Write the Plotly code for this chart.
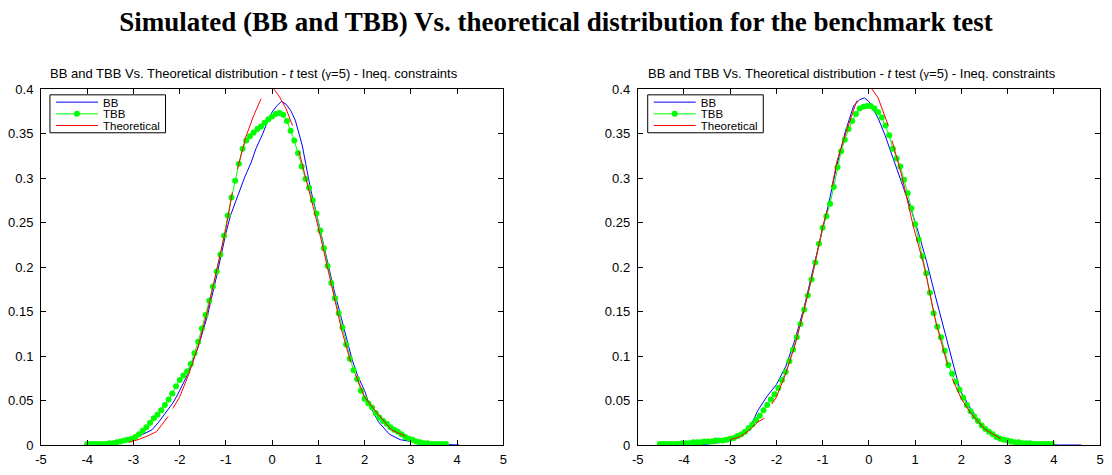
import numpy as np
import plotly.graph_objects as go

# ---------------- data ----------------
# Left panel
bb_x_left = [-4.05, -3.6, -3.2, -3.0, -2.8, -2.6, -2.45, -2.29, -2.15, -2.06, -1.95, -1.83, -1.6, -1.4,
             -1.2, -1.1, -1.0, -0.9, -0.75, -0.6, -0.45, -0.35, -0.2, -0.1, 0.0, 0.1, 0.2, 0.3, 0.4, 0.5,
             0.65, 0.83, 0.94, 1.1, 1.34, 1.5, 1.73, 1.85, 2.0, 2.1, 2.3, 2.54, 2.77, 3.0, 3.5, 4.05]
bb_y_left = [0.0, 0.002, 0.005, 0.008, 0.012, 0.017, 0.026, 0.037, 0.047, 0.055, 0.066, 0.079, 0.11, 0.145,
             0.19, 0.215, 0.238, 0.258, 0.280, 0.300, 0.318, 0.333, 0.350, 0.364, 0.374, 0.381, 0.386, 0.383, 0.376, 0.365,
             0.337, 0.288, 0.264, 0.228, 0.174, 0.142, 0.096, 0.078, 0.061, 0.046, 0.026, 0.012, 0.006, 0.004, 0.001, 0.0]

tbb_x_left_start = -4.0
tbb_x_left_step = 0.08
tbb_y_left = [0.001, 0.001, 0.001, 0.001, 0.001, 0.001, 0.002, 0.002, 0.003, 0.004,
              0.005, 0.006, 0.007, 0.009, 0.012, 0.016, 0.020, 0.025, 0.030, 0.034,
              0.039, 0.045, 0.051, 0.058, 0.066, 0.073, 0.078, 0.083, 0.091, 0.103,
              0.116, 0.131, 0.146, 0.162, 0.178, 0.195, 0.214, 0.235, 0.258, 0.278,
              0.297, 0.316, 0.333, 0.342, 0.347, 0.351, 0.355, 0.358, 0.362, 0.366,
              0.369, 0.372, 0.373, 0.371, 0.364, 0.353, 0.342, 0.328, 0.313, 0.299,
              0.289, 0.275, 0.260, 0.241, 0.221, 0.201, 0.182, 0.165, 0.148, 0.132,
              0.113, 0.097, 0.084, 0.074, 0.061, 0.052, 0.047, 0.042, 0.036, 0.031,
              0.027, 0.024, 0.020, 0.017, 0.015, 0.012, 0.009, 0.007, 0.006, 0.004,
              0.003, 0.002, 0.002, 0.001, 0.001, 0.001, 0.001, 0.001]

th_x_left = [-3.1, -2.9, -2.7, -2.5, -2.25, None,
             -2.15, -2.0, -1.8, -1.6, -1.4, -1.2, -1.0, -0.86, None,
             -0.75, -0.57, -0.4, -0.24, None,
             -0.03, 0.15, 0.3, 0.44, None,
             0.58, 0.73, 0.94, 1.1, 1.3, 1.5, 1.7, None,
             1.8, 2.0, 2.27, 2.58, 2.88]
th_y_left = [0.003, 0.006, 0.010, 0.015, 0.032, None,
             0.041, 0.054, 0.080, 0.111, 0.150, 0.195, 0.243, 0.284, None,
             0.310, 0.346, 0.370, 0.389, None,
             0.405, 0.392, 0.378, 0.359, None,
             0.330, 0.300, 0.257, 0.222, 0.175, 0.130, 0.093, None,
             0.080, 0.054, 0.036, 0.017, 0.010]

# Right panel
bb_x_right = [-4.0, -3.5, -3.2, -3.0, -2.8, -2.7, -2.55, -2.4, -2.2, -2.0, -1.8, -1.6, -1.4, -1.2,
              -1.01, -0.87, -0.69, -0.51, -0.33, -0.2, -0.1, 0.0, 0.1, 0.21, 0.35, 0.53, 0.75, 0.82,
              0.93, 1.07, 1.25, 1.43, 1.61, 1.79, 1.97, 2.2, 2.5, 2.8, 3.0, 3.5, 4.0, 4.1, 4.6]
bb_y_right = [0.0, 0.001, 0.003, 0.006, 0.010, 0.013, 0.022, 0.039, 0.055, 0.068, 0.088, 0.118, 0.155, 0.198,
              0.239, 0.271, 0.315, 0.352, 0.381, 0.388, 0.390, 0.386, 0.377, 0.366, 0.348, 0.322, 0.290, 0.279,
              0.262, 0.239, 0.206, 0.169, 0.133, 0.097, 0.062, 0.041, 0.018, 0.008, 0.005, 0.002, 0.001, 0.0, 0.0]

tbb_x_right_start = -4.52
tbb_x_right_step = 0.08
tbb_y_right = [0.001, 0.001, 0.001, 0.001, 0.001, 0.001, 0.002, 0.002, 0.002, 0.003,
               0.003, 0.003, 0.004, 0.004, 0.004, 0.005, 0.005, 0.005, 0.006, 0.007,
               0.008, 0.010, 0.012, 0.015, 0.019, 0.023, 0.028, 0.033, 0.039, 0.045,
               0.051, 0.057, 0.064, 0.073, 0.082, 0.094, 0.107, 0.121, 0.136, 0.152,
               0.168, 0.186, 0.205, 0.226, 0.244, 0.257, 0.271, 0.290, 0.312, 0.330,
               0.343, 0.355, 0.364, 0.372, 0.378, 0.380, 0.381, 0.381, 0.378, 0.374,
               0.368, 0.359, 0.348, 0.333, 0.322, 0.313, 0.298, 0.283, 0.266, 0.248,
               0.231, 0.212, 0.193, 0.171, 0.148, 0.133, 0.121, 0.106, 0.090, 0.080,
               0.071, 0.062, 0.053, 0.045, 0.038, 0.032, 0.027, 0.022, 0.018, 0.015,
               0.012, 0.009, 0.007, 0.006, 0.005, 0.004, 0.003, 0.003, 0.002, 0.002,
               0.002, 0.001, 0.001, 0.001, 0.001, 0.001, 0.001]

th_x_right = [-3.0, -2.8, -2.6, -2.4, -2.26, None,
              -2.1, -2.0, -1.8, -1.6, -1.4, -1.2, -1.0, -0.9, None,
              -0.8, -0.69, -0.47, -0.26, None,
              0.0, 0.2, 0.42, None,
              0.5, 0.7, 0.96, 1.2, 1.45, 1.7, None,
              1.8, 2.0, 2.2, 2.5, 2.85]
th_y_right = [0.006, 0.009, 0.016, 0.026, 0.030, None,
              0.046, 0.054, 0.080, 0.112, 0.152, 0.196, 0.245, 0.264, None,
              0.290, 0.319, 0.355, 0.387, None,
              0.405, 0.390, 0.359, None,
              0.342, 0.305, 0.246, 0.200, 0.138, 0.090, None,
              0.075, 0.052, 0.036, 0.018, 0.007]

x_ticks = [-5, -4, -3, -2, -1, 0, 1, 2, 3, 4, 5]
x_tick_labels = ["-5", "-4", "-3", "-2", "-1", "0", "1", "2", "3", "4", "5"]
y_ticks = [0, 0.05, 0.1, 0.15, 0.2, 0.25, 0.3, 0.35, 0.4]
y_tick_labels = ["0", "0.05", "0.1", "0.15", "0.2", "0.25", "0.3", "0.35", "0.4"]
series_names = ["BB", "TBB", "Theoretical"]

main_title = "Simulated (BB and TBB) Vs. theoretical distribution for the benchmark test"
panel_title = ("BB and TBB Vs. Theoretical distribution - <i>t</i> test "
               "(<span style='font-size:11px'>\u03b3</span>=5) - Ineq. constraints")

# ---------------- figure ----------------
tbb_x_left = [round(tbb_x_left_start + tbb_x_left_step * i, 2) for i in range(len(tbb_y_left))]
tbb_x_right = [round(tbb_x_right_start + tbb_x_right_step * i, 2) for i in range(len(tbb_y_right))]

W, H = 1112, 475
ML, MR, MT, MB = 41, 8, 89, 20
pw = W - ML - MR
ph = H - MT - MB
left_px = (41, 505)
right_px = (640, 1104)
left_dom = [(left_px[0] - ML) / pw, (left_px[1] - ML) / pw]
right_dom = [(right_px[0] - ML) / pw, (right_px[1] - ML) / pw]


def px_x(p):
    return (p - ML) / pw


def px_y(p):
    return (H - MB - p) / ph


fig = go.Figure()

panels = [
    ("x", "y", ["legend", "legend2", "legend3"], bb_x_left, bb_y_left, tbb_x_left, tbb_y_left, th_x_left, th_y_left),
    ("x2", "y2", ["legend4", "legend5", "legend6"], bb_x_right, bb_y_right, tbb_x_right, tbb_y_right, th_x_right, th_y_right),
]
for xa, ya, lgs, bx, by, tx, ty, hx, hy in panels:
    fig.add_trace(go.Scatter(x=bx, y=by, mode="lines", name=series_names[0], xaxis=xa, yaxis=ya, legend=lgs[0],
                             line=dict(color="#0000FF", width=1)))
    fig.add_trace(go.Scatter(x=tx, y=ty, mode="lines+markers", name=series_names[1], xaxis=xa, yaxis=ya,
                             legend=lgs[1], line=dict(color="#00FF00", width=1),
                             marker=dict(color="#00FF00", size=6)))
    fig.add_trace(go.Scatter(x=hx, y=hy, mode="lines", name=series_names[2], xaxis=xa, yaxis=ya, legend=lgs[2],
                             connectgaps=False, line=dict(color="#FF0000", width=1)))

axis_common = dict(showline=True, linecolor="black", linewidth=1, mirror="ticks", ticks="inside",
                   ticklen=5, tickcolor="black", showgrid=False, zeroline=False,
                   tickfont=dict(family="Liberation Sans, Arial", size=13, color="black"))

legend_font = dict(family="Liberation Sans, Arial", size=11.5, color="black")
row_centers = [102.5, 114.5, 126.5]
legends = {}
for k, (plx, box_left) in enumerate([(left_px, 51), (right_px, 651)]):
    for j in range(3):
        key = "legend" if (k == 0 and j == 0) else "legend%d" % (k * 3 + j + 1)
        legends[key] = dict(x=px_x(box_left), y=px_y(row_centers[j]), xanchor="left", yanchor="middle",
                            bgcolor="rgba(0,0,0,0)", borderwidth=0, font=legend_font, itemwidth=42,
                            itemclick=False, itemdoubleclick=False)

fig.update_layout(
    width=W, height=H,
    margin=dict(l=ML, r=MR, t=MT, b=MB),
    paper_bgcolor="white", plot_bgcolor="white",
    showlegend=True,
    title=dict(text="<b>" + main_title + "</b>", x=0.5, xanchor="center", y=1 - 22 / H, yanchor="middle",
               yref="container",
               font=dict(family="Liberation Serif, Times New Roman", size=27, color="black")),
    xaxis=dict(domain=left_dom, range=[-5, 5], tickvals=x_ticks, ticktext=x_tick_labels, anchor="y",
               ticklabelstandoff=2, **axis_common),
    yaxis=dict(domain=[0, 1], range=[0, 0.4], tickvals=y_ticks, ticktext=y_tick_labels, anchor="x",
               ticklabelstandoff=4, **axis_common),
    xaxis2=dict(domain=right_dom, range=[-5, 5], tickvals=x_ticks, ticktext=x_tick_labels, anchor="y2",
                ticklabelstandoff=2, **axis_common),
    yaxis2=dict(domain=[0, 1], range=[0, 0.4], tickvals=y_ticks, ticktext=y_tick_labels, anchor="x2",
                ticklabelstandoff=4, **axis_common),
    **legends,
)

# legend frames (opaque white boxes with black border, like MATLAB)
for box_left in (50, 650):
    fig.add_shape(type="rect", xref="paper", yref="paper",
                  x0=px_x(box_left), x1=px_x(box_left + 116), y0=px_y(134), y1=px_y(95),
                  fillcolor="white", line=dict(color="black", width=1), layer="above")

# panel titles
for center in (255, 855):
    fig.add_annotation(text=panel_title, xref="paper", yref="paper",
                       x=px_x(center), y=px_y(73), xanchor="center", yanchor="middle",
                       showarrow=False,
                       font=dict(family="Liberation Sans, Arial", size=13, color="black"))

fig.write_html("out.html")
